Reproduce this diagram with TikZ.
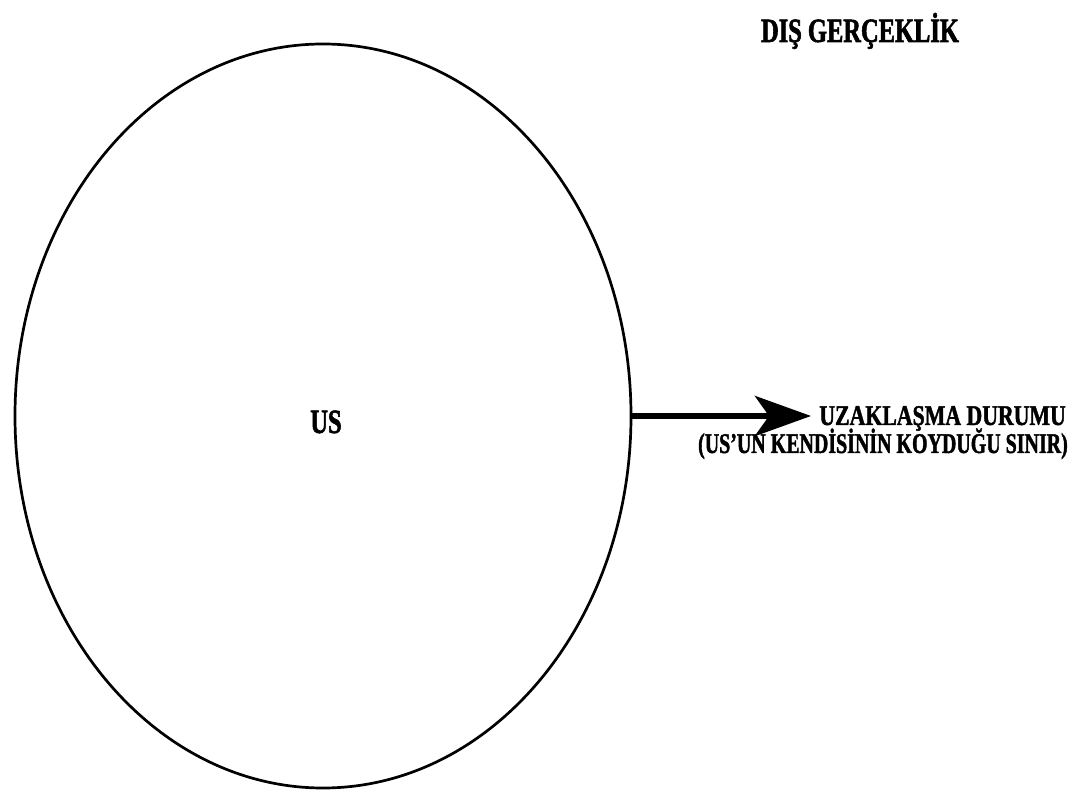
\documentclass[tikz,border=0pt]{standalone}
\usepackage{fontspec}
\setmainfont{Liberation Serif}
\newfontfamily\condfont[FakeStretch=0.72, FakeBold=1.6]{Liberation Serif}
\newfontfamily\sidefont[FakeStretch=0.765, FakeBold=1.4]{Liberation Serif}
\newfontfamily\narrowfont[FakeStretch=0.70, FakeBold=1.4]{Liberation Serif}
\usetikzlibrary{arrows.meta,shapes.geometric}
\begin{document}
\begin{tikzpicture}[x=1pt,y=1pt,
  label text/.style={font=\condfont\bfseries\fontsize{34}{38}\selectfont, inner sep=0pt},
  side text/.style={font=\sidefont\bfseries\fontsize{28.5}{32}\selectfont, inner sep=0pt, anchor=base east},
  note text/.style={side text, font=\narrowfont\bfseries\fontsize{28.5}{32}\selectfont},
  boundary/.style={line width=2.7pt},
  push arrow/.style={line width=6pt, -{Stealth[length=56pt, width=40pt, inset=14pt]}}]
  \useasboundingbox (0,0) rectangle (1086,793);
  % the mind as an ellipse
  \node[boundary, draw, ellipse, minimum width=616pt, minimum height=744pt, inner sep=0pt] (mind) at (323,377) {};
  \node[label text, anchor=base] (us) at (326,360) {US};
  \node[label text, anchor=base] (outer) at (860,751) {DIŞ GERÇEKLİK};
  % distancing arrow and its caption
  \coordinate (tip) at (811,377);
  \draw[push arrow] (mind.east) -- (tip);
  \node[side text] (state) at (1066,368) {UZAKLAŞMA DURUMU};
  \node[note text] (limit) at (1068,340) {(US’UN KENDİSİNİN KOYDUĞU SINIR)};
\end{tikzpicture}
\end{document}
